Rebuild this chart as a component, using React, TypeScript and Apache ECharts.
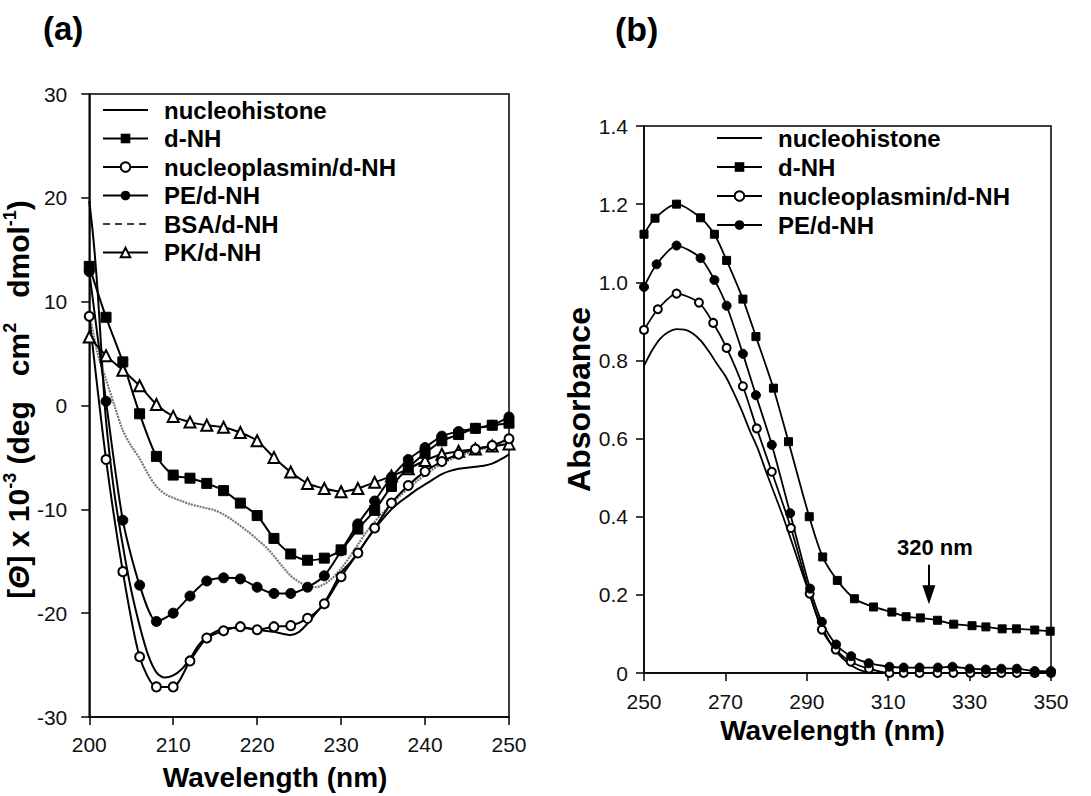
import React, { useEffect, useRef } from 'react';
import * as echarts from 'echarts';

const FONT = '"Liberation Sans", Arial, Helvetica, sans-serif';

// ---------- Panel (a): CD spectra ----------
const A_WL = [200, 202, 204, 206, 208, 210, 212, 214, 216, 218, 220, 222, 224, 226, 228, 230, 232, 234, 236, 238, 240, 242, 244, 246, 248, 250];
const A_DNH = [13.4, 8.5, 4.2, -0.8, -4.9, -6.7, -7.0, -7.5, -8.2, -9.4, -10.6, -12.8, -14.3, -14.9, -14.7, -13.9, -11.9, -10.1, -7.8, -6.0, -4.6, -3.4, -2.8, -2.2, -1.9, -1.7];
const A_NP = [8.6, -5.2, -16.0, -24.2, -27.1, -27.1, -24.6, -22.4, -21.7, -21.3, -21.6, -21.3, -21.2, -20.5, -19.1, -16.5, -14.2, -11.8, -9.4, -7.7, -6.35, -5.4, -4.7, -4.2, -3.85, -3.2];
const A_PE = [12.9, 0.4, -11.05, -17.3, -20.8, -20.0, -18.35, -16.9, -16.6, -16.7, -17.5, -18.1, -18.1, -17.5, -16.4, -14.0, -11.4, -9.2, -6.9, -5.2, -4.05, -2.95, -2.5, -2.2, -1.9, -1.1];
const A_PK = [6.6, 4.8, 3.4, 1.9, 0.1, -1.05, -1.6, -1.9, -2.1, -2.6, -3.4, -5.0, -6.4, -7.5, -8.0, -8.3, -8.0, -7.4, -6.8, -6.1, -5.3, -4.7, -4.4, -4.2, -3.9, -3.7];

const A_NH_WL = [200, 200.5, 201, 201.5, 202, 203, 204, 205, 206, 207, 208, 209, 210, 211, 212, 213, 214, 215, 216, 218, 220, 222, 224, 225, 226, 227, 228, 229, 230, 231, 232, 233, 234, 235, 236, 237, 238, 239, 240, 241, 242, 243, 244, 245, 246, 247, 248, 249, 250];
const A_NH = [19.7, 16, 11, 4.5, -1.5, -8.5, -13.5, -17.8, -21.2, -24.0, -25.7, -26.2, -26.0, -25.4, -24.4, -23.1, -22.3, -21.8, -21.5, -21.4, -21.6, -21.8, -22.1, -21.8, -21.0, -20.0, -19.0, -17.6, -16.1, -15.2, -14.2, -13.0, -11.9, -10.9, -10.0, -9.3, -8.7, -8.1, -7.6, -7.1, -6.6, -6.3, -6.1, -6.0, -5.9, -5.8, -5.6, -5.2, -4.7];

const A_BSA_WL = [200, 201, 202, 203, 204, 205, 206, 207, 208, 209, 210, 211, 212, 213, 214, 215, 216, 217, 218, 219, 220, 221, 222, 223, 224, 225, 226, 227, 228, 229, 230, 231, 232, 233, 234, 235, 236, 237, 238, 239, 240, 241, 242, 243, 244, 245, 246, 247, 248, 249, 250];
const A_BSA = [9, 5, 2.5, 0, -2.4, -3.9, -5.1, -6.6, -7.8, -8.5, -8.9, -9.2, -9.5, -9.7, -9.9, -10.1, -10.5, -11.0, -11.6, -12.2, -12.9, -13.6, -14.5, -15.5, -16.4, -17.0, -17.4, -17.5, -17.2, -16.6, -15.7, -14.6, -13.4, -12.2, -11.2, -10.3, -9.5, -8.7, -8.0, -7.3, -6.7, -6.1, -5.6, -5.2, -4.9, -4.6, -4.35, -4.15, -4.0, -3.85, -3.7];

const A_X_TICKS = [200, 250, 10];
const A_Y_TICKS = [-30, 30, 10];

// ---------- Panel (b): absorbance ----------
const B_NH_WL = [250, 252, 254, 256, 258, 260, 262, 264, 266, 268, 270, 272, 274, 276, 278, 280, 282, 284, 286, 288, 290, 292, 294, 296, 298, 300, 302, 304, 306, 310, 320, 330, 340, 350];
const B_NH = [0.786, 0.826, 0.856, 0.873, 0.880, 0.879, 0.869, 0.850, 0.822, 0.790, 0.760, 0.718, 0.672, 0.620, 0.573, 0.515, 0.460, 0.405, 0.345, 0.283, 0.222, 0.162, 0.112, 0.073, 0.046, 0.027, 0.013, 0.004, 0.001, 0, 0, 0, 0, 0];

const B_DNH_WL = [250, 252.7, 258, 263.9, 267.3, 270.3, 274.3, 277.5, 281.8, 285.5, 290.6, 293.9, 297.5, 301.7, 306.4, 310.9, 314.4, 317.9, 322.1, 326.1, 330.6, 334, 338, 341.5, 346, 349.8];
const B_DNH = [1.123, 1.164, 1.2, 1.165, 1.123, 1.056, 0.957, 0.861, 0.729, 0.592, 0.40, 0.297, 0.237, 0.190, 0.169, 0.156, 0.144, 0.141, 0.135, 0.125, 0.121, 0.118, 0.113, 0.113, 0.110, 0.107];

const B_NP_WL = [250, 253.4, 258, 263.5, 267, 270.3, 274.3, 277.7, 281.4, 286.1, 290.7, 293.7, 297.1, 300.8, 305.3, 310.3, 313.8, 317.7, 322.1, 326, 330.2, 334, 337.8, 341.6, 346, 350];
const B_NP = [0.878, 0.931, 0.971, 0.948, 0.896, 0.832, 0.734, 0.626, 0.515, 0.371, 0.203, 0.111, 0.060, 0.029, 0.011, 0.0, 0.0, 0.0, 0.0, 0.0, 0.0, 0.0, 0.0, 0.0, 0.0, 0.0];

const B_PE_WL = [250, 253.1, 258, 263.9, 267.3, 270.3, 274.3, 277.5, 281.4, 285.9, 290.8, 293.7, 297.2, 300.9, 305.2, 310.3, 313.8, 317.7, 322.2, 325.8, 330, 334, 337.8, 341.6, 346, 350];
const B_PE = [0.988, 1.046, 1.094, 1.062, 1.006, 0.940, 0.817, 0.711, 0.584, 0.409, 0.216, 0.131, 0.073, 0.043, 0.025, 0.016, 0.014, 0.014, 0.014, 0.016, 0.011, 0.009, 0.011, 0.011, 0.005, 0.005];

const B_X_TICKS = [250, 350, 20];
const B_Y_TICKS = [0, 1.4, 0.2];

const ANNOT_WL = 320;
const ANNOT_TOP = 0.277;
const ANNOT_TIP = 0.2;
const ANNOT_TEXT = '320 nm';

const NAMES = ['nucleohistone', 'd-NH', 'nucleoplasmin/d-NH', 'PE/d-NH', 'BSA/d-NH', 'PK/d-NH'];

const pairs = (xs: number[], ys: number[]) => xs.map((x, i) => [x, ys[i]]);

const SOLID_ICON = 'path://M0,0 M0,5.1 L45,5.1 L45,6.9 L0,6.9 Z M45,12';
const DASH_ICON = 'path://M0,0 M0,5.2 L7,5.2 L7,6.8 L0,6.8 Z M12,5.2 L19,5.2 L19,6.8 L12,6.8 Z M24,5.2 L31,5.2 L31,6.8 L24,6.8 Z M36,5.2 L43,5.2 L43,6.8 L36,6.8 Z M45,12';

function axisCommon() {
  return {
    axisLine: { show: true, onZero: false, lineStyle: { color: '#000', width: 1.5 } },
    axisTick: { show: true, inside: false, length: 8, lineStyle: { color: '#000', width: 1.5 } },
    splitLine: { show: false },
    nameTextStyle: { fontFamily: FONT, fontSize: 28, fontWeight: 'bold', color: '#000' },
  };
}

export default function App() {
  const ref = useRef<HTMLDivElement>(null);
  useEffect(() => {
    if (!ref.current) return;
    const chart = echarts.init(ref.current, null, { renderer: 'svg' });
    const labelStyle = { fontFamily: FONT, fontSize: 21, color: '#111' };
    const markerSeries = (name: string, xs: number[], ys: number[], idx: number, symbol: string, size: number, lw: number) => ({
      type: 'line',
      name,
      xAxisIndex: idx,
      yAxisIndex: idx,
      data: pairs(xs, ys),
      symbol,
      symbolSize: size,
      showSymbol: true,
      smooth: 0.25,
      color: '#000',
      itemStyle: { color: '#000', borderColor: '#000' },
      lineStyle: { color: '#000', width: lw },
      z: 3,
    });
    const option: any = {
      animation: false,
      backgroundColor: '#fff',
      title: [
        { text: '(a)', left: 43, top: 12, padding: 0, textStyle: { fontFamily: FONT, fontSize: 33, fontWeight: 'bold', color: '#000' } },
        { text: '(b)', left: 615, top: 12, padding: 0, textStyle: { fontFamily: FONT, fontSize: 34, fontWeight: 'bold', color: '#000' } },
      ],
      grid: [
        { left: 88, top: 94, width: 421, height: 628, show: true, borderColor: '#000', borderWidth: 1.5, backgroundColor: 'transparent' },
        { left: 644, top: 126, width: 407, height: 547, show: true, borderColor: '#000', borderWidth: 1.5, backgroundColor: 'transparent' },
      ],
      xAxis: [
        {
          ...axisCommon(), type: 'value', gridIndex: 0, min: A_X_TICKS[0], max: A_X_TICKS[1], interval: A_X_TICKS[2],
          axisLabel: { ...labelStyle, margin: 17 },
          name: 'Wavelength (nm)', nameLocation: 'middle', nameGap: 46,
          nameTextStyle: { fontFamily: FONT, fontSize: 28, fontWeight: 'bold', color: '#000', padding: [0, 48, 0, 0] },
        },
        {
          ...axisCommon(), type: 'value', gridIndex: 1, min: B_X_TICKS[0], max: B_X_TICKS[1], interval: B_X_TICKS[2],
          axisLabel: { ...labelStyle, margin: 18 },
          name: 'Wavelength (nm)', nameLocation: 'middle', nameGap: 41,
          nameTextStyle: { fontFamily: FONT, fontSize: 28, fontWeight: 'bold', color: '#000', padding: [0, 30, 0, 0] },
        },
      ],
      yAxis: [
        {
          ...axisCommon(), type: 'value', gridIndex: 0, min: A_Y_TICKS[0], max: A_Y_TICKS[1], interval: A_Y_TICKS[2],
          axisLabel: { ...labelStyle, margin: 22 },
          name: '{b|[}{t|Θ}{b|] x 10}{s|-3}{b| (deg   cm}{s|2}{b|   dmol}{s|-1}{b|)}',
          nameLocation: 'middle', nameGap: 53, nameRotate: 90,
          nameTextStyle: {
            fontFamily: FONT, fontSize: 30, fontWeight: 'bold', color: '#000', padding: [0, 0, 0, 12],
            rich: {
              b: { fontFamily: FONT, fontSize: 30, fontWeight: 'bold', color: '#000', lineHeight: 32, verticalAlign: 'bottom' },
              t: { fontFamily: FONT, fontSize: 30, fontWeight: 'bold', fontStyle: 'italic', color: '#000', lineHeight: 32, verticalAlign: 'bottom' },
              s: { fontFamily: FONT, fontSize: 18, fontWeight: 'bold', color: '#000', lineHeight: 18, verticalAlign: 'top' },
            },
          },
        },
        {
          ...axisCommon(), type: 'value', gridIndex: 1, min: B_Y_TICKS[0], max: B_Y_TICKS[1], interval: B_Y_TICKS[2],
          axisLabel: { ...labelStyle, margin: 16, formatter: (v: number) => (v === 0 ? '0' : v.toFixed(1)) },
          name: 'Absorbance', nameLocation: 'middle', nameGap: 48, nameRotate: 90,
          nameTextStyle: { fontFamily: FONT, fontSize: 32, fontWeight: 'bold', color: '#000' },
        },
      ],
      legend: [
        {
          orient: 'vertical', left: 102, top: 98, padding: 0, itemWidth: 45, itemHeight: 12, itemGap: 4.5,
          selectedMode: false,
          textStyle: { fontFamily: FONT, fontSize: 24, fontWeight: 'bold', color: '#000', padding: [0, 0, 0, 11] },
          data: [
            { name: NAMES[0], icon: SOLID_ICON },
            { name: NAMES[1] },
            { name: NAMES[2] },
            { name: NAMES[3] },
            { name: NAMES[4], icon: DASH_ICON, itemStyle: { color: '#000' } },
            { name: NAMES[5] },
          ],
        },
        {
          orient: 'vertical', left: 716, top: 126, padding: 0, itemWidth: 45, itemHeight: 12, itemGap: 5,
          selectedMode: false,
          textStyle: { fontFamily: FONT, fontSize: 24, fontWeight: 'bold', color: '#000', padding: [0, 0, 0, 11] },
          data: [
            { name: NAMES[0], icon: SOLID_ICON },
            { name: NAMES[1] },
            { name: NAMES[2] },
            { name: NAMES[3] },
          ],
        },
      ],
      series: [
        {
          type: 'line', name: NAMES[0], xAxisIndex: 0, yAxisIndex: 0, data: pairs(A_NH_WL, A_NH),
          symbol: 'none', showSymbol: false, smooth: 0.3, color: '#000', lineStyle: { color: '#000', width: 2 }, z: 2,
        },
        {
          type: 'line', name: NAMES[4], xAxisIndex: 0, yAxisIndex: 0, data: pairs(A_BSA_WL, A_BSA),
          symbol: 'none', showSymbol: false, smooth: 0.3, color: '#777', lineStyle: { color: '#777', width: 2.2, type: [2, 1] }, z: 2,
        },
        markerSeries(NAMES[5], A_WL, A_PK, 0, 'emptyTriangle', 11, 2),
        markerSeries(NAMES[1], A_WL, A_DNH, 0, 'rect', 10, 2),
        markerSeries(NAMES[3], A_WL, A_PE, 0, 'circle', 10, 2),
        markerSeries(NAMES[2], A_WL, A_NP, 0, 'emptyCircle', 9, 2),
        {
          type: 'line', name: NAMES[0], xAxisIndex: 1, yAxisIndex: 1, data: pairs(B_NH_WL, B_NH),
          symbol: 'none', showSymbol: false, smooth: 0.3, color: '#000', lineStyle: { color: '#000', width: 1.8 }, z: 2,
        },
        {
          ...markerSeries(NAMES[1], B_DNH_WL, B_DNH, 1, 'rect', 8, 1.8),
          markLine: {
            silent: true,
            symbol: ['none', 'triangle'],
            symbolSize: [13, 19],
            lineStyle: { color: '#000', width: 2, type: 'solid' },
            itemStyle: { color: '#000' },
            label: { show: true, position: 'start', formatter: ANNOT_TEXT, fontFamily: FONT, fontSize: 22, fontWeight: 'bold', color: '#000', distance: 6, offset: [6, 0] },
            data: [[{ coord: [ANNOT_WL, ANNOT_TOP] }, { coord: [ANNOT_WL, ANNOT_TIP] }]],
          },
        },
        markerSeries(NAMES[2], B_NP_WL, B_NP, 1, 'emptyCircle', 8, 1.8),
        markerSeries(NAMES[3], B_PE_WL, B_PE, 1, 'circle', 9, 1.8),
      ],
    };
    chart.setOption(option);
    return () => chart.dispose();
  }, []);
  return <div ref={ref} style={{ position: 'absolute', left: 0, top: 0, width: 1091, height: 796 }} />;
}
